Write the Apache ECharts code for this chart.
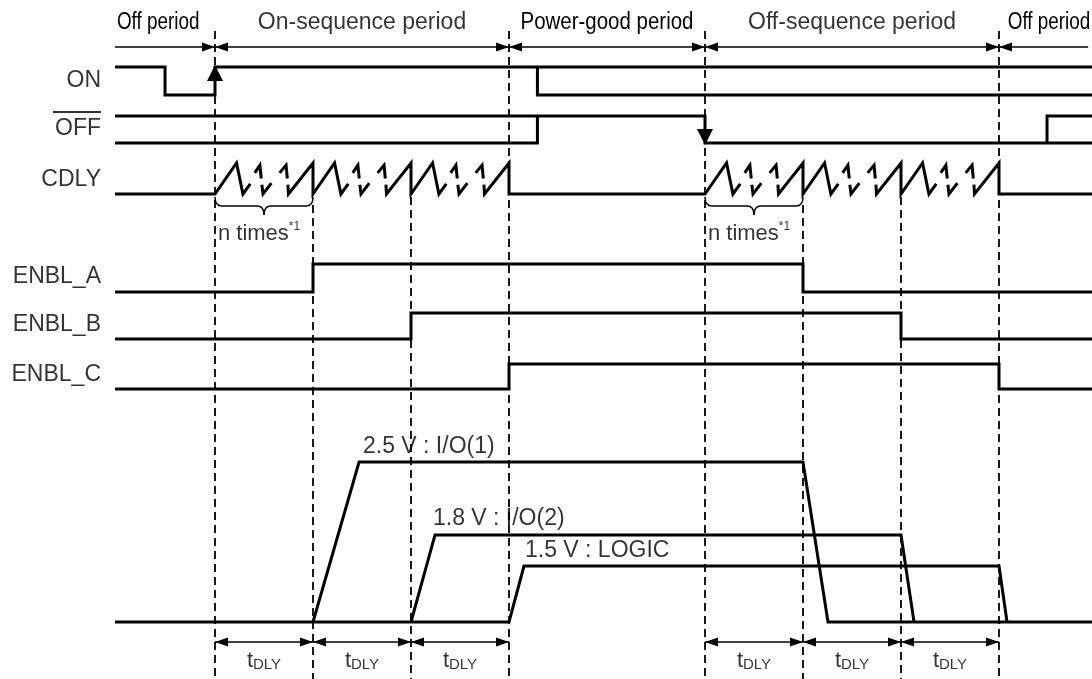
<!DOCTYPE html>
<html><head><meta charset="utf-8">
<script src="https://cdn.jsdelivr.net/npm/echarts@6/dist/echarts.min.js"></script>
<style>html,body{margin:0;padding:0;background:#fff}#c{width:1092px;height:679px}</style>
</head><body><div id="c"></div>
<script>
// ================= DATA (time in units of tDLY; t = 0 at the ON rising edge) =================
const T_START = -1.02, T_END = 8.95;
const periodNames   = ['Off period', 'On-sequence period', 'Power-good period', 'Off-sequence period', 'Off period'];
const periodBounds  = [[-1.02, 0], [0, 3], [3, 5], [5, 8], [8, 8.91]];
const periodArrowHeads = [[0, 1], [1, 1], [1, 1], [1, 1], [1, 0]];
const periodLabelT  = [-0.58, 1.5, 4.0, 6.5, 8.51];
const signalNames   = ['ON', 'OFF', 'CDLY', 'ENBL_A', 'ENBL_B', 'ENBL_C'];

// logic levels: 1 = high, 0 = low
const onLevels        = [[-1.02, 1], [-0.51, 1], [-0.51, 0], [0, 0], [0, 1], [8.95, 1]];
const onAfterPowerGood = [[3.29, 1], [3.29, 0], [8.95, 0]];
const offLevels       = [[-1.02, 1], [5, 1], [5, 0], [8.95, 0]];
const offBeforePowerGood = [[-1.02, 0], [3.29, 0], [3.29, 1]];
const offAfterOff     = [[8.49, 0], [8.49, 1], [8.95, 1]];
const onEdgeArrow     = [[0, 1, -1]];   // [t, level, direction(-1 up / 1 down)]
const offEdgeArrow    = [[5, 0, 1]];

// one tDLY of the CDLY counting waveform (full ramp, two broken ramps, full ramp); null = pen up
const cdlyTooth = [
  [0, 0], [0.22, 1], [0.285, 0], [0.36, 0.33], null,
  [0.405, 0.68], [0.458, 0.93], [0.472, 0.5], null,
  [0.478, 0.3], [0.49, 0], [0.575, 0.35], null,
  [0.66, 0.68], [0.725, 0.93], [0.738, 0.5], null,
  [0.744, 0.3], [0.75, 0], [1, 1], [1, 0]
];
const cdlyCountSlots = [0, 1, 2, 5, 6, 7];

const enblA = [[-1.02, 0], [1, 0], [1, 1], [6, 1], [6, 0], [8.95, 0]];
const enblB = [[-1.02, 0], [2, 0], [2, 1], [7, 1], [7, 0], [8.95, 0]];
const enblC = [[-1.02, 0], [3, 0], [3, 1], [8, 1], [8, 0], [8.95, 0]];

// supply rails: drawn height relative to the 2.5 V rail
const railNames  = ['2.5 V : I/O(1)', '1.8 V : I/O(2)', '1.5 V : LOGIC'];
const rail25 = [[-1.02, 0], [1, 0], [1.47, 1], [6, 1], [6.255, 0], [8.95, 0]];
const rail18 = [[-1.02, 0], [2, 0], [2.245, 0.544], [7, 0.544], [7.133, 0], [8.95, 0]];
const rail15 = [[-1.02, 0], [3, 0], [3.153, 0.35], [8, 0.35], [8.082, 0], [8.95, 0]];
const railLabelT = [1.51, 2.224, 3.163];

const guideFullT    = [0, 3, 5, 8];
const guidePartialT = [1, 2, 6, 7];
const tdlySlots     = [0, 1, 2, 5, 6, 7];
const nTimesSlots   = [0, 5];
const nTimesText    = 'n times';
const nTimesNote    = '*1';

// ================= LAYOUT (pixels) =================
const W = 1092, H = 679, X0 = 215, UNIT = 98;
const X_MIN = -X0 / UNIT, X_MAX = (W - X0) / UNIT;
const rows = [
  {top: 67, h: 28}, {top: 116, h: 27}, {top: 163, h: 31},
  {top: 264, h: 28}, {top: 313, h: 26}, {top: 364, h: 25},
  {top: 462, h: 160}
];
const signalLabelY = [81, 129, 180, 277, 325, 375];
const railLabelY = [447, 519, 551];
const LABEL_RIGHT_T = (101 - X0) / UNIT;
const PERIOD_Y = 47, PERIOD_TEXT_Y = 23, TDLY_Y = 642, TDLY_TEXT_Y = 660;
const BRACE_Y = 197, NTIMES_Y = 233;
const GUIDE_TOP_FULL = 31, GUIDE_TOP_PART = [205, 197, 205, 197];
const periodTextScaleX = {'Off period': 0.82, 'Power-good period': 0.89};

const FONT = '"Liberation Sans", Arial, Helvetica, sans-serif';

const GAP = ['-', '-'];
function join(...lines) {
  const out = [];
  lines.forEach((l, i) => { if (i) out.push(GAP); l.forEach(p => out.push(p)); });
  return out;
}
const cdlyData = [[T_START, 0]];
cdlyCountSlots.forEach(s => cdlyTooth.forEach(p => cdlyData.push(p ? [s + p[0], p[1]] : GAP)));
cdlyData.push([T_END, 0]);

// ================= OPTION =================
const grids = [{left: 0, right: 0, top: 0, bottom: 0}].concat(rows.map(r => ({left: 0, right: 0, top: r.top, height: r.h})));
const xAxes = grids.map((g, i) => ({type: 'value', gridIndex: i, min: X_MIN, max: X_MAX, show: false}));
const yAxes = grids.map((g, i) => i === 0
  ? {type: 'value', gridIndex: 0, min: 0, max: H, inverse: true, show: false}
  : {type: 'value', gridIndex: i, min: 0, max: 1, show: false});

function sig(data, gi) {
  return {type: 'line', xAxisIndex: gi, yAxisIndex: gi, data, symbol: 'none', clip: false, silent: true,
    lineStyle: {color: '#000', width: 3, join: 'miter', cap: 'butt'}};
}

const guides = guideFullT.map(t => [t, GUIDE_TOP_FULL, H]).concat(guidePartialT.map((t, i) => [t, GUIDE_TOP_PART[i], H]));
const arrows = periodBounds.map((b, i) => [b[0], b[1], PERIOD_Y, periodArrowHeads[i][0], periodArrowHeads[i][1]])
  .concat(tdlySlots.map(s => [s, s + 1, TDLY_Y, 1, 1]));

function edgeArrowRender(params, api) {
  const p = api.coord([api.value(0), api.value(1)]);
  const d = api.value(2), x = p[0], ty = p[1] + 2 * d;
  return {type: 'polygon', shape: {points: [[x, ty], [x - 8, ty - 16 * d], [x + 8, ty - 16 * d]]}, style: {fill: '#000'}};
}

const labels = [];
function txt(t, y, formatter, extra) {
  labels.push({value: [t, y], label: Object.assign({show: true, formatter, color: '#000', fontFamily: FONT,
    fontSize: 23, position: 'inside', align: 'center', verticalAlign: 'middle'}, extra || {})});
}
periodNames.forEach((n, i) => { if (!periodTextScaleX[n]) txt(periodLabelT[i], PERIOD_TEXT_Y, n); });
signalNames.forEach((n, i) => txt(LABEL_RIGHT_T, signalLabelY[i], n, {position: 'left', distance: 0, align: 'right'}));
// overline of OFF
txt(LABEL_RIGHT_T, 112, '{ol| }', {position: 'left', distance: 0, align: 'right',
  rich: {ol: {width: 48, height: 2, lineHeight: 2, backgroundColor: '#000', fontSize: 2}}});
railNames.forEach((n, i) => txt(railLabelT[i], railLabelY[i], n, {position: 'right', distance: 0, align: 'left'}));
tdlySlots.forEach(s => txt(s + 0.5, TDLY_TEXT_Y, '{t|t}{s|DLY}', {
  rich: {t: {fontSize: 22, fontFamily: FONT, color: '#000', verticalAlign: 'bottom', lineHeight: 24},
         s: {fontSize: 15, fontFamily: FONT, color: '#000', verticalAlign: 'bottom', lineHeight: 24}}}));
nTimesSlots.forEach(s => txt(s + 0.03, NTIMES_Y, '{a|' + nTimesText + '}{b|' + nTimesNote + '}', {
  position: 'right', distance: 0, align: 'left',
  rich: {a: {fontSize: 22, fontFamily: FONT, color: '#000', lineHeight: 24, verticalAlign: 'bottom'},
         b: {fontSize: 12, fontFamily: FONT, color: '#000', lineHeight: 24, verticalAlign: 'top'}}}));

const option = {
  backgroundColor: '#fff',
  animation: false,
  grid: grids, xAxis: xAxes, yAxis: yAxes,
  series: [
    {type: 'custom', xAxisIndex: 0, yAxisIndex: 0, data: guides, silent: true,
      renderItem: (params, api) => {
        const a = api.coord([api.value(0), api.value(1)]), b = api.coord([api.value(0), api.value(2)]);
        return {type: 'line', shape: {x1: a[0], y1: a[1], x2: b[0], y2: b[1]},
          style: {stroke: '#000', lineWidth: 1.8, lineDash: [8, 5]}};
      }},
    {type: 'custom', xAxisIndex: 0, yAxisIndex: 0, data: arrows, silent: true,
      renderItem: (params, api) => {
        const a = api.coord([api.value(0), api.value(2)]), b = api.coord([api.value(1), api.value(2)]);
        const L = 13, Wd = 4.5, ch = [{type: 'line', shape: {x1: a[0], y1: a[1], x2: b[0], y2: b[1]}, style: {stroke: '#000', lineWidth: 1.5}}];
        if (api.value(3)) ch.push({type: 'polygon', shape: {points: [[a[0], a[1]], [a[0] + L, a[1] - Wd], [a[0] + L, a[1] + Wd]]}, style: {fill: '#000'}});
        if (api.value(4)) ch.push({type: 'polygon', shape: {points: [[b[0], b[1]], [b[0] - L, b[1] - Wd], [b[0] - L, b[1] + Wd]]}, style: {fill: '#000'}});
        return {type: 'group', children: ch};
      }},
    {type: 'custom', xAxisIndex: 0, yAxisIndex: 0, data: nTimesSlots.map(s => [s, s + 1, BRACE_Y]), silent: true,
      renderItem: (params, api) => {
        const a = api.coord([api.value(0), api.value(2)]), b = api.coord([api.value(1), api.value(2)]);
        const y0 = a[1], y1 = y0 + 9, y2 = y0 + 18, x1 = a[0], x2 = b[0], xm = (x1 + x2) / 2, r = 7;
        const st = {stroke: '#000', lineWidth: 1.5, fill: null};
        return {type: 'group', children: [
          {type: 'bezierCurve', shape: {x1: x1, y1: y0, cpx1: x1, cpy1: y1, x2: x1 + r, y2: y1}, style: st},
          {type: 'line', shape: {x1: x1 + r, y1: y1, x2: xm - r, y2: y1}, style: st},
          {type: 'bezierCurve', shape: {x1: xm - r, y1: y1, cpx1: xm, cpy1: y1, x2: xm, y2: y2}, style: st},
          {type: 'bezierCurve', shape: {x1: xm, y1: y2, cpx1: xm, cpy1: y1, x2: xm + r, y2: y1}, style: st},
          {type: 'line', shape: {x1: xm + r, y1: y1, x2: x2 - r, y2: y1}, style: st},
          {type: 'bezierCurve', shape: {x1: x2 - r, y1: y1, cpx1: x2, cpy1: y1, x2: x2, y2: y0}, style: st}
        ]};
      }},
    sig(join(onLevels, onAfterPowerGood), 1),
    sig(join(offLevels, offBeforePowerGood, offAfterOff), 2),
    sig(cdlyData, 3),
    sig(enblA, 4), sig(enblB, 5), sig(enblC, 6),
    sig(join(rail25, rail18, rail15), 7),
    {type: 'custom', xAxisIndex: 1, yAxisIndex: 1, data: onEdgeArrow, silent: true, clip: false, renderItem: edgeArrowRender},
    {type: 'custom', xAxisIndex: 2, yAxisIndex: 2, data: offEdgeArrow, silent: true, clip: false, renderItem: edgeArrowRender},
    {type: 'scatter', xAxisIndex: 0, yAxisIndex: 0, symbolSize: 0, silent: true, data: labels, z: 10}
  ]
};
const chart = echarts.init(document.getElementById('c'), null, {renderer: 'canvas'});
chart.setOption(option);

// condensed period captions, positioned through the overlay grid's scales
const condensed = [];
periodNames.forEach((n, i) => {
  const sx = periodTextScaleX[n];
  if (!sx) return;
  const p = chart.convertToPixel({gridIndex: 0}, [periodLabelT[i], PERIOD_TEXT_Y]);
  condensed.push({type: 'text', x: p[0], y: p[1], scaleX: sx, silent: true, z: 20,
    style: {text: n, x: 0, y: 0, fill: '#000', font: '23px ' + FONT, align: 'center', verticalAlign: 'middle'}});
});
chart.setOption({graphic: condensed});
</script></body></html>
